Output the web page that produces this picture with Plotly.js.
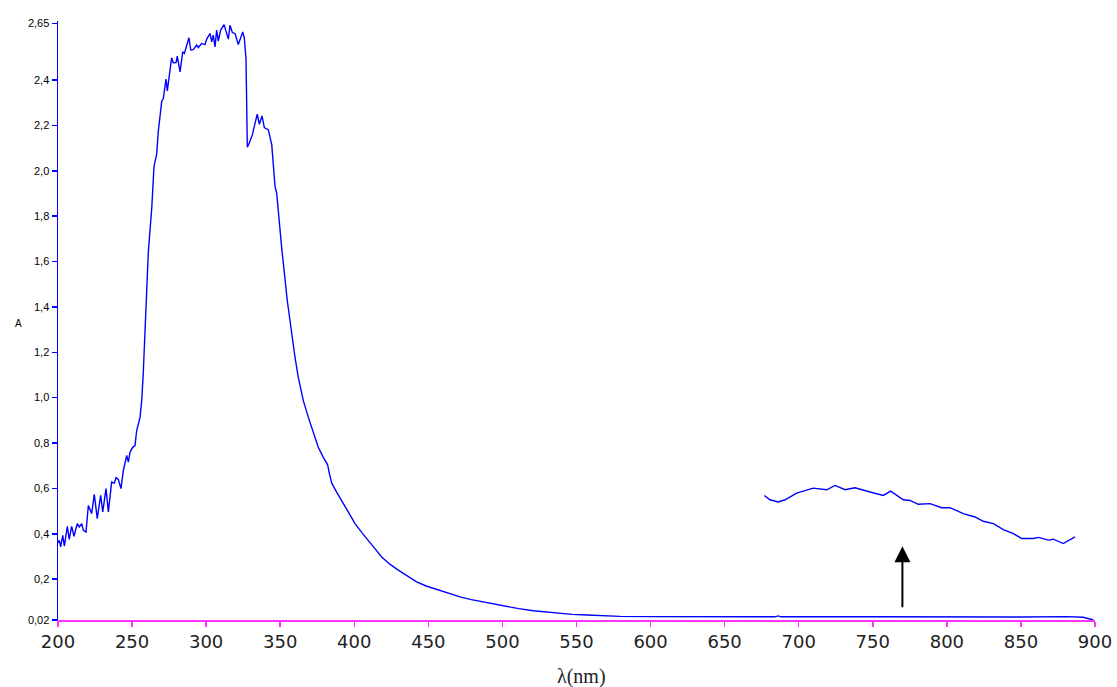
<!DOCTYPE html>
<html><head><meta charset="utf-8">
<script src="https://cdn.plot.ly/plotly-3.0.1.min.js"></script>
<style>html,body{margin:0;padding:0;background:#fff}#chart{width:1117px;height:687px}</style>
</head><body><div id="chart"></div>
<script>
// Main absorption spectrum
const wavelength = [200.0,200.9,201.8,203.2,204.3,206.3,207.6,209.2,210.8,213.0,214.4,216.0,217.1,218.9,220.5,222.7,224.5,226.5,228.8,230.2,232.4,234.0,236.2,238.0,239.2,240.7,242.5,244.1,246.4,247.5,248.6,250.4,252.0,253.1,255.4,256.5,257.5,258.8,259.8,261.0,263.3,264.8,266.6,267.7,270.0,271.1,272.9,273.8,276.7,277.8,279.7,280.5,282.4,284.2,285.3,288.4,289.6,291.3,293.6,294.7,297.0,299.2,300.4,302.6,303.8,304.8,306.0,307.1,308.2,309.8,312.1,315.0,316.1,317.7,319.5,321.7,324.7,325.8,326.9,327.8,329.1,331.2,333.0,334.5,335.9,337.7,339.3,342.0,344.3,346.5,347.6,351.0,354.8,357.7,360.0,362.2,365.6,369.0,372.3,375.7,379.1,382.0,383.2,384.8,388.0,391.5,395.5,400.5,405.5,410.6,414.5,418.5,424.0,429.7,436.0,442.1,448.5,455.6,463.0,471.4,479.0,487.1,495.0,502.9,511.0,520.8,529.0,538.9,547.0,556.9,567.0,579.4,600.0,633.4,660.4,661.5,684.0,686.2,688.0,750.0,807.7,813.4,820.0,850.0,880.9,892.1,898.9];
const absorbance = [0.36,0.371,0.342,0.393,0.346,0.433,0.375,0.433,0.389,0.445,0.43,0.445,0.415,0.408,0.525,0.489,0.574,0.467,0.569,0.496,0.599,0.496,0.628,0.623,0.647,0.64,0.599,0.679,0.745,0.716,0.759,0.781,0.789,0.855,0.913,0.987,1.10,1.30,1.50,1.646,1.836,2.019,2.072,2.173,2.305,2.319,2.404,2.352,2.498,2.476,2.477,2.505,2.436,2.524,2.517,2.586,2.532,2.534,2.554,2.543,2.561,2.556,2.58,2.605,2.568,2.598,2.546,2.62,2.571,2.62,2.644,2.58,2.641,2.609,2.605,2.556,2.612,2.583,2.495,2.104,2.122,2.158,2.209,2.249,2.205,2.242,2.19,2.18,2.114,1.931,1.902,1.66,1.426,1.28,1.177,1.089,0.987,0.913,0.847,0.781,0.737,0.704,0.665,0.623,0.585,0.547,0.50,0.445,0.402,0.364,0.33,0.298,0.266,0.24,0.212,0.188,0.17,0.155,0.138,0.122,0.11,0.10,0.088,0.078,0.07,0.061,0.055,0.049,0.045,0.042,0.039,0.036,0.035,0.035,0.035,0.033,0.034,0.038,0.034,0.034,0.034,0.031,0.033,0.033,0.035,0.032,0.02];
// Enlarged visible band
const wavelengthZoom = [676.8,680.6,686.2,690.8,698.6,705.4,709.8,718.9,724.5,731.3,738.0,748.1,757.1,762.1,770.6,775.1,780.7,788.6,796.5,802.1,811.1,819.0,824.6,831.4,838.1,844.9,850.5,858.4,861.8,868.5,871.9,878.6,886.5];
const absorbanceZoom = [0.569,0.55,0.54,0.55,0.579,0.594,0.601,0.594,0.613,0.594,0.603,0.584,0.569,0.588,0.55,0.547,0.53,0.533,0.515,0.515,0.489,0.474,0.455,0.445,0.418,0.401,0.379,0.379,0.384,0.372,0.376,0.357,0.386];
// Ticks
const yTickVals = [0.02,0.2,0.4,0.6,0.8,1.0,1.2,1.4,1.6,1.8,2.0,2.2,2.4,2.65];
const yTickText = ['0,02','0,2','0,4','0,6','0,8','1,0','1,2','1,4','1,6','1,8','2,0','2,2','2,4','2,65'];
const xTickVals = [200,250,300,350,400,450,500,550,600,650,700,750,800,850,900];
// Arrow
const arrowX = 770, arrowFrom = 0.07, arrowTo = 0.345;

const traces = [
  {x: wavelength, y: absorbance, mode: 'lines', line: {color: '#0000ff', width: 1.4}, hoverinfo: 'skip'},
  {x: wavelengthZoom, y: absorbanceZoom, mode: 'lines', line: {color: '#0000ff', width: 1.4}, hoverinfo: 'skip'}
];
const layout = {
  width: 1117, height: 687,
  margin: {l: 58, r: 22, t: 21, b: 67},
  paper_bgcolor: '#fff', plot_bgcolor: '#fff',
  showlegend: false,
  xaxis: {range: [200, 900], tickvals: xTickVals, ticktext: xTickVals.map(String),
    showgrid: false, zeroline: false, showline: true, linecolor: '#ff33ff', linewidth: 1.5,
    ticks: 'outside', ticklen: 5, tickcolor: '#ff33ff', tickwidth: 1.5,
    tickfont: {family: 'DejaVu Sans', size: 18, color: '#222'}},
  yaxis: {range: [0.02, 2.66], tickvals: yTickVals, ticktext: yTickText,
    showgrid: false, zeroline: false, showline: true, linecolor: '#0000ff', linewidth: 1.5,
    ticks: 'outside', ticklen: 5, tickcolor: '#0000ff', tickwidth: 1.5,
    tickfont: {family: 'Liberation Sans, Arial', size: 11, color: '#000'}},
  annotations: [
    {x: arrowX, y: arrowTo, ax: arrowX, ay: arrowFrom, xref: 'x', yref: 'y', axref: 'x', ayref: 'y',
     text: '', showarrow: true, arrowhead: 2, arrowsize: 1.6, arrowwidth: 2, arrowcolor: '#000'},
    {text: 'A', xref: 'paper', yref: 'paper', x: -0.043, y: 0.495, showarrow: false,
     font: {family: 'Liberation Sans, Arial', size: 10, color: '#000'}},
    {text: 'λ(nm)', xref: 'paper', yref: 'paper', x: 0.505, y: -0.072, yanchor: 'top', showarrow: false,
     font: {family: 'Liberation Serif, Times New Roman', size: 20, color: '#222'}}
  ]
};
Plotly.newPlot('chart', traces, layout, {displayModeBar: false, staticPlot: true});
</script></body></html>
